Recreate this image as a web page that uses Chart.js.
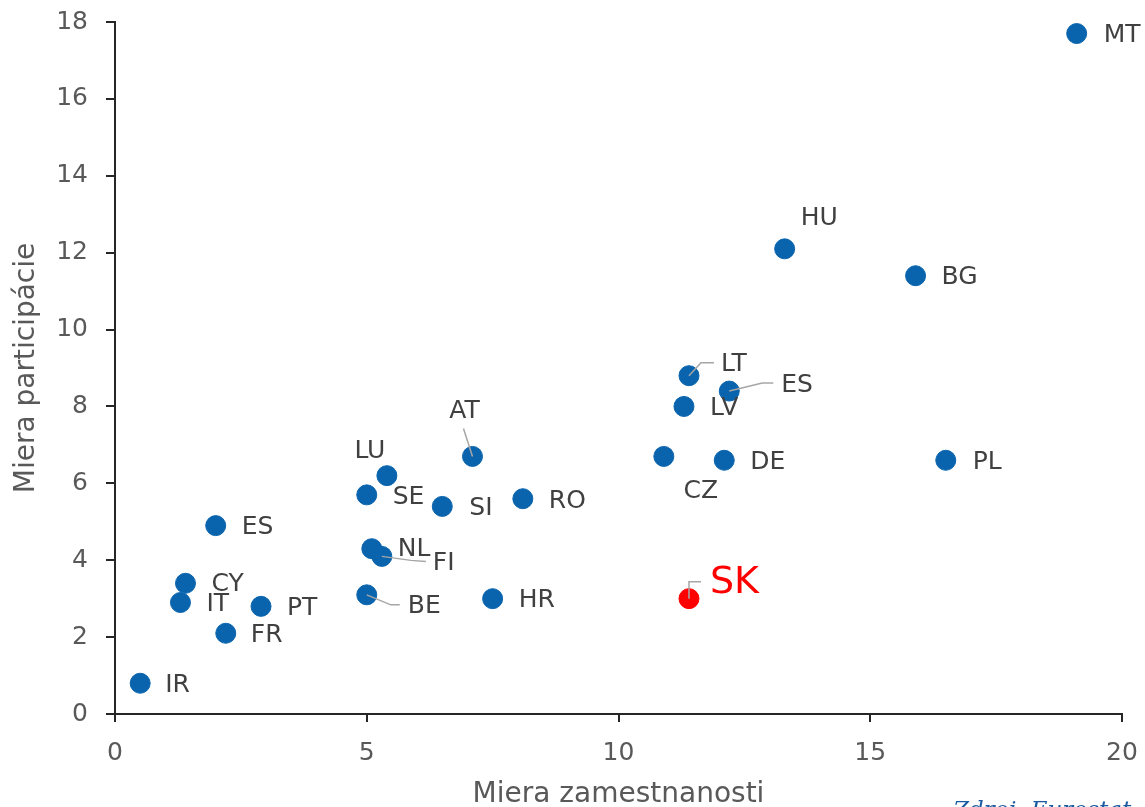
<!DOCTYPE html>
<html>
<head>
<meta charset="utf-8">
<script src="https://cdn.jsdelivr.net/npm/chart.js@4.4.0/dist/chart.umd.min.js"></script>
<style>
  html, body { margin: 0; padding: 0; background: #fff; }
  .wrap { position: relative; width: 1145px; height: 807px; overflow: hidden; }
  .source { position: absolute; left: 953px; top: 796px; font: italic 23px "DejaVu Serif", serif; color: #1a5aa0; white-space: nowrap; }
</style>
</head>
<body>
<div class="wrap">
  <canvas id="chart" width="1145" height="807"></canvas>
  <div class="source">Zdroj: Eurostat</div>
</div>
<script>
// krajiny a hodnoty (miera zamestnanosti, miera participacie)
const countries = ['MT', 'HU', 'BG', 'LT', 'ES', 'LV', 'AT', 'CZ', 'DE', 'PL', 'LU', 'SE', 'SI', 'RO', 'ES', 'NL', 'FI', 'CY', 'IT', 'PT', 'FR', 'BE', 'HR', 'SK', 'IR']
const employment = [19.1, 13.3, 15.9, 11.4, 12.2, 11.3, 7.1, 10.9, 12.1, 16.5, 5.4, 5.0, 6.5, 8.1, 2.0, 5.1, 5.3, 1.4, 1.3, 2.9, 2.2, 5.0, 7.5, 11.4, 0.5]
const participation = [17.7, 12.1, 11.4, 8.8, 8.4, 8.0, 6.7, 6.7, 6.6, 6.6, 6.2, 5.7, 5.4, 5.6, 4.9, 4.3, 4.1, 3.4, 2.9, 2.8, 2.1, 3.1, 3.0, 3.0, 0.8]
const xTicks = [0, 5, 10, 15, 20]
const yTicks = [0, 2, 4, 6, 8, 10, 12, 14, 16, 18]

const blue = '#0a64ad'
const red = '#ff0000'
const textColor = '#404040'
const tickColor = '#595959'
const font = '"DejaVu Sans", Verdana, sans-serif'

// posun popisov v pixeloch: [dx, dy, zarovnanie, vodiaca ciara]
const labelPos = {
  MT: [27, 2, 'left'], HU: [16, -30, 'left'], BG: [26, 2, 'left'],
  LT: [32, -11, 'left', [[0, 0], [12, -13], [25, -13]]],
  ES0: [52, -6, 'left', [[0, 0], [33, -8], [44, -8]]],
  LV: [26, 2, 'left'], AT: [-8, -45, 'center', [[0, 0], [-9, -28]]],
  CZ: [37, 35, 'center'], DE: [26, 2, 'left'], PL: [27, 2, 'left'],
  LU: [-17, -24, 'center'], SE: [26, 3, 'left'], SI: [27, 2, 'left'],
  RO: [26, 3, 'left'], ES1: [26, 2, 'left'], NL: [26, 1, 'left'],
  FI: [51, 7, 'left', [[0, 0], [29, 4], [44, 5]]],
  CY: [26, 1, 'left'], IT: [26, 2, 'left'], PT: [26, 2, 'left'],
  FR: [25, 2, 'left'], BE: [41, 12, 'left', [[0, 0], [24, 10], [33, 10]]],
  HR: [26, 2, 'left'], SK: [21, -16, 'left', [[0, 0], [0, -17], [12, -17]]],
  IR: [25, 2, 'left']
}

const points = employment.map((x, i) => ({ x: x, y: participation[i] }))
const pointColors = countries.map(c => c === 'SK' ? red : blue)

const labelPlugin = {
  id: 'labels',
  afterDatasetsDraw(chart) {
    const ctx = chart.ctx
    const meta = chart.getDatasetMeta(0)
    let esCount = 0
    ctx.save()
    countries.forEach((c, i) => {
      let key = c
      if (c === 'ES') { key = 'ES' + esCount; esCount++ }
      const p = labelPos[key]
      const pt = meta.data[i]
      if (p[3]) {
        ctx.strokeStyle = '#a6a6a6'
        ctx.lineWidth = 1.5
        ctx.beginPath()
        p[3].forEach((q, j) => {
          if (j === 0) ctx.moveTo(pt.x + q[0], pt.y + q[1])
          else ctx.lineTo(pt.x + q[0], pt.y + q[1])
        })
        ctx.stroke()
      }
      ctx.fillStyle = c === 'SK' ? red : textColor
      ctx.font = (c === 'SK' ? '38px ' : '25px ') + font
      ctx.textAlign = p[2]
      ctx.textBaseline = 'middle'
      ctx.fillText(c, pt.x + p[0], pt.y + p[1])
    })
    ctx.restore()
  }
}

const ctx = document.getElementById('chart').getContext('2d')
new Chart(ctx, {
  type: 'scatter',
  data: {
    datasets: [{
      data: points,
      backgroundColor: pointColors,
      borderColor: pointColors,
      pointRadius: 10,
      pointHoverRadius: 10
    }]
  },
  options: {
    responsive: false,
    animation: false,
    layout: { padding: { top: 22, right: 23, left: 13, bottom: 0 } },
    plugins: { legend: { display: false }, tooltip: { enabled: false } },
    scales: {
      x: {
        type: 'linear',
        min: 0, max: 20,
        afterBuildTicks: s => { s.ticks = xTicks.map(v => ({ value: v })) },
        afterFit: s => { s.height = 93; s.paddingLeft = 0; s.paddingRight = 0 },
        border: { display: true, color: '#262626', width: 2 },
        grid: { drawOnChartArea: false, drawTicks: true, tickLength: 8, color: '#262626', lineWidth: 2 },
        ticks: { color: tickColor, font: { family: font, size: 25 }, padding: 16 },
        title: { display: true, text: 'Miera zamestnanosti', color: tickColor, font: { family: font, size: 28, lineHeight: 0.9 }, padding: 0 }
      },
      y: {
        type: 'linear',
        min: 0, max: 18,
        afterBuildTicks: s => { s.ticks = yTicks.map(v => ({ value: v })) },
        afterFit: s => { s.width = 102; s.paddingTop = 0; s.paddingBottom = 0 },
        border: { display: true, color: '#262626', width: 2 },
        grid: { drawOnChartArea: false, drawTicks: true, tickLength: 9, color: '#262626', lineWidth: 2 },
        ticks: { color: tickColor, font: { family: font, size: 25 }, padding: 18 },
        title: { display: true, text: 'Miera participácie', color: tickColor, font: { family: font, size: 28, lineHeight: 1 }, padding: 0 }
      }
    }
  },
  plugins: [labelPlugin]
})
</script>
</body>
</html>
